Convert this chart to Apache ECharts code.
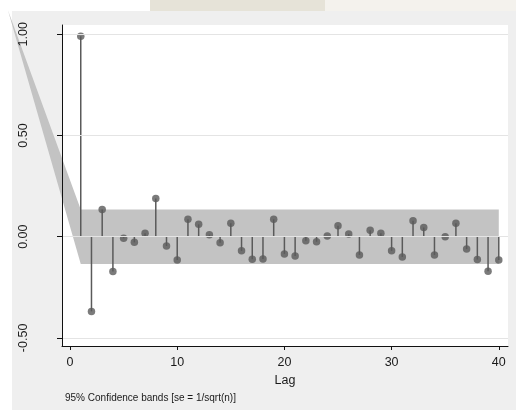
<!DOCTYPE html>
<html>
<head>
<meta charset="utf-8">
<script src="https://cdn.jsdelivr.net/npm/echarts@6/dist/echarts.min.js"></script>
<style>
  html, body { margin: 0; padding: 0; background: #ffffff; }
  #chart { width: 516px; height: 410px; }
</style>
</head>
<body>
<div id="chart"></div>
<script>
// Autocorrelations of the series, lags 1..40
const lags = [1, 2, 3, 4, 5, 6, 7, 8, 9, 10,
              11, 12, 13, 14, 15, 16, 17, 18, 19, 20,
              21, 22, 23, 24, 25, 26, 27, 28, 29, 30,
              31, 32, 33, 34, 35, 36, 37, 38, 39, 40];
const acf = [0.990, -0.369, 0.135, -0.172, -0.008, -0.028, 0.017, 0.189, -0.046, -0.115,
             0.086, 0.061, 0.010, -0.030, 0.066, -0.070, -0.111, -0.110, 0.086, -0.085,
             -0.095, -0.020, -0.025, 0.003, 0.054, 0.013, -0.090, 0.032, 0.017, -0.070,
             -0.100, 0.079, 0.046, -0.090, 0.000, 0.067, -0.061, -0.113, -0.171, -0.115];

// 95% confidence band outline (upper and lower bounds per lag)
const bandLag   = [-5.8, 1, 40];
const bandUpper = [1.12, 0.135, 0.135];
const bandLower = [1.12, -0.135, -0.135];

// Axis ticks
const yTicks = [-0.5, 0, 0.5, 1];
const yTickLabels = ['-0.50', '0.00', '0.50', '1.00'];
const xTicks = [0, 10, 20, 30, 40];
const xTickLabels = ['0', '10', '20', '30', '40'];

const caption = '95% Confidence bands [se = 1/sqrt(n)]';
const xTitle = 'Lag';

const FONT = '"Liberation Sans", Arial, sans-serif';
const MARK = '#5a5a5a';

const chart = echarts.init(document.getElementById('chart'), null, { renderer: 'canvas' });

chart.setOption({
  animation: false,
  backgroundColor: 'transparent',
  graphic: [
    // faint paper tint along the top edge
    { type: 'rect', z: -20, shape: { x: 150, y: 0, width: 175, height: 11 }, style: { fill: '#e6e3d8' } },
    { type: 'rect', z: -20, shape: { x: 325, y: 0, width: 191, height: 11 }, style: { fill: '#f4f2ed' } },
    // outer graph region
    { type: 'rect', z: -10, shape: { x: 12, y: 11, width: 504, height: 399 }, style: { fill: '#efefef' } },
    // plot region
    { type: 'rect', z: -9, shape: { x: 62, y: 25, width: 446, height: 321 }, style: { fill: '#ffffff' } },
    {
      type: 'text', z: 5, left: 65, top: 393,
      style: { text: caption, font: '10px ' + FONT, fill: '#1a1a1a' }
    }
  ],
  grid: { left: 62, right: 8, top: 25, bottom: 64, containLabel: false },
  xAxis: {
    type: 'value', min: -0.75, max: 40.86,
    z: 10,
    name: xTitle, nameLocation: 'middle', nameGap: 26,
    nameTextStyle: { fontFamily: FONT, fontSize: 12.5, color: '#1a1a1a' },
    axisLine: { show: true, onZero: false, lineStyle: { color: '#111', width: 1 } },
    axisTick: { show: true, length: 4, customValues: xTicks, lineStyle: { color: '#111' } },
    axisLabel: {
      customValues: xTicks, margin: 10,
      fontFamily: FONT, fontSize: 12.5, color: '#1a1a1a',
      formatter: v => xTickLabels[xTicks.indexOf(v)]
    },
    splitLine: { show: false }
  },
  yAxis: {
    type: 'value', min: -0.54, max: 1.046,
    z: 10,
    axisLine: { show: true, onZero: false, lineStyle: { color: '#111', width: 1 } },
    axisTick: { show: true, length: 5, customValues: yTicks, lineStyle: { color: '#111' } },
    axisLabel: {
      customValues: yTicks, margin: 32, rotate: 90,
      fontFamily: FONT, fontSize: 12.5, color: '#1a1a1a',
      formatter: v => yTickLabels[yTicks.indexOf(v)]
    },
    splitLine: { show: false }
  },
  series: [
    {
      // horizontal grid lines at the y ticks
      type: 'line', data: [], z: 1, silent: true,
      markLine: {
        silent: true, symbol: 'none', label: { show: false },
        lineStyle: { color: '#e4e4e4', width: 1, type: 'solid' },
        data: yTicks.map(v => ({ yAxis: v }))
      }
    },
    {
      // confidence band
      type: 'custom', z: 2, clip: false, silent: true,
      data: [0],
      renderItem: function (params, api) {
        const pts = [];
        for (let i = 0; i < bandLag.length; i++) pts.push(api.coord([bandLag[i], bandUpper[i]]));
        for (let i = bandLag.length - 1; i >= 0; i--) pts.push(api.coord([bandLag[i], bandLower[i]]));
        return { type: 'polygon', shape: { points: pts }, style: { fill: '#c3c3c3' } };
      }
    },
    {
      // stems from zero to each autocorrelation
      type: 'custom', z: 3, silent: true,
      data: lags.map((l, i) => [l, acf[i]]),
      renderItem: function (params, api) {
        const p0 = api.coord([api.value(0), 0]);
        const p1 = api.coord([api.value(0), api.value(1)]);
        return {
          type: 'line',
          shape: { x1: p0[0], y1: p0[1], x2: p1[0], y2: p1[1] },
          style: { stroke: MARK, lineWidth: 1.5 }
        };
      }
    },
    {
      type: 'scatter', z: 4, silent: true,
      symbol: 'circle', symbolSize: 7.5,
      itemStyle: { color: MARK },
      data: lags.map((l, i) => [l, acf[i]])
    }
  ]
});
</script>
</body>
</html>
